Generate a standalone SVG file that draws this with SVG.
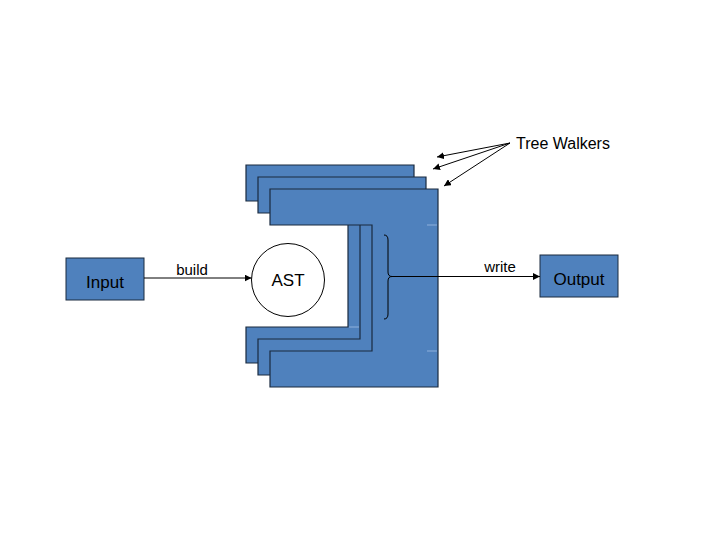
<svg xmlns="http://www.w3.org/2000/svg" width="720" height="540" viewBox="0 0 720 540">
<style>
.box{fill:#4f81bd;stroke:#1a2a3f;stroke-width:1}
.walker{fill:#4f81bd;stroke:#1a2a3f;stroke-width:1.2}
.ln{fill:none;stroke:#000;stroke-width:1}
.faint{stroke:#8fb0dc;stroke-width:1}
text{font-family:"Liberation Sans",Arial,sans-serif;fill:#000}
.lbl{font-size:17px;text-anchor:middle}
.sm{font-size:15px;text-anchor:middle}
</style>
<defs>
<marker id="ah" viewBox="0 0 10 10" refX="10" refY="5" markerWidth="7" markerHeight="7" markerUnits="userSpaceOnUse" orient="auto">
<path d="M0,0 L10,5 L0,10 Z" fill="#000"/>
</marker>
</defs>
<rect width="720" height="540" fill="#fff"/>
<g id="walker1"><path class="walker" d="M246,165 H414 V363 H246 V327 H348 V201 H246 Z"/></g>
<g id="walker2"><path class="walker" d="M258,177 H426 V375 H258 V339 H360 V213 H258 Z"/><line class="faint" x1="349" y1="327" x2="359" y2="327"/></g>
<g id="walker3"><path class="walker" d="M270,189 H438 V387 H270 V351 H372 V225 H270 Z"/><line class="faint" x1="427" y1="225" x2="437" y2="225"/><line class="faint" x1="427" y1="351" x2="437" y2="351"/></g>
<g id="input"><rect class="box" x="66" y="258" width="78" height="42"/><text class="lbl" x="105" y="288">Input</text></g>
<g id="ast"><circle cx="288" cy="280" r="36.5" fill="#fff" stroke="#000" stroke-width="1"/><text class="lbl" x="288" y="286">AST</text></g>
<g id="output"><rect class="box" x="540" y="255" width="78" height="42"/><text class="lbl" x="579" y="285">Output</text></g>
<g id="treewalkers-label"><text x="516" y="149" style="font-size:16px">Tree Walkers</text></g>
<g id="connectors">
<path class="ln" d="M384,235 Q388,235 388,240 V272 Q388,276.5 392,276.5 Q388,276.5 388,281 V314 Q388,319 384,319" stroke="#1a2a3f"/>
<line class="ln" x1="144" y1="278" x2="251.5" y2="278" marker-end="url(#ah)"/>
<line class="ln" x1="392" y1="276.5" x2="540" y2="276.5" marker-end="url(#ah)"/>
<line class="ln" x1="510" y1="143" x2="437" y2="157" marker-end="url(#ah)"/>
<line class="ln" x1="510" y1="143" x2="433" y2="169" marker-end="url(#ah)"/>
<line class="ln" x1="510" y1="143" x2="444" y2="186" marker-end="url(#ah)"/>
<text class="sm" x="192" y="275">build</text>
<text class="sm" x="500" y="272">write</text>
</g>
</svg>
